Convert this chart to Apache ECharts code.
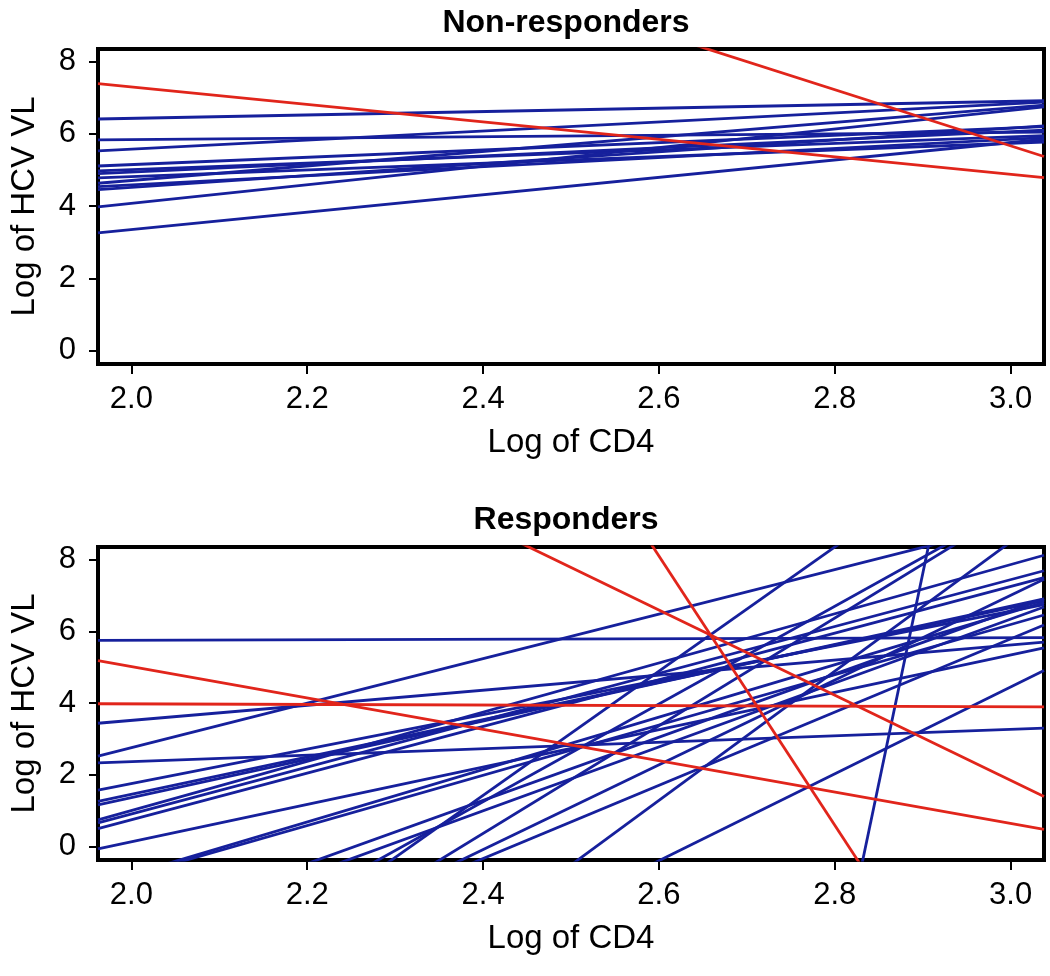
<!DOCTYPE html>
<html>
<head>
<meta charset="utf-8">
<script src="https://cdn.jsdelivr.net/npm/echarts@6/dist/echarts.min.js"></script>
<style>
html,body{margin:0;padding:0;background:#fff;}
#chart{width:1050px;height:976px;}
</style>
</head>
<body>
<div id="chart"></div>
<script>
// Axis ranges and tick labels
const X_MIN = 1.962, X_MAX = 3.038;
const Y_MIN = -0.37, Y_MAX = 8.35;
const xTicks = [2.0, 2.2, 2.4, 2.6, 2.8, 3.0];
const yTicks = [0, 2, 4, 6, 8];
const panelTitles = ['Non-responders', 'Responders'];
const xName = 'Log of CD4';
const yName = 'Log of HCV VL';

// Each subject line: [value at log CD4 = 2.0, value at log CD4 = 3.0]
const nonRespBlue = [
  [6.43, 6.90], [5.84, 6.04], [5.58, 6.83], [5.15, 6.16], [5.01, 5.92], [4.94, 6.06],
  [4.82, 5.74], [4.71, 6.72], [4.59, 5.85], [4.52, 6.16], [4.08, 6.65], [3.35, 5.76]
];
const nonRespRed = [
  [7.30, 4.88], [13.44, 5.67]
];
const respBlue = [
  [5.75, 5.82], [3.52, 5.62], [2.76, 8.96], [2.37, 3.27], [1.76, 6.56], [1.46, 6.66],
  [1.37, 6.70], [1.01, 7.86], [0.91, 7.44], [0.75, 7.25], [0.14, 5.34],
  [-0.77, 6.53], [-0.81, 6.19], [-2.23, 6.57], [-2.56, 6.34], [-4.19, 9.42], [-5.49, 11.81],
  [-5.63, 9.37], [-4.80, 7.00], [-4.41, 5.79], [-9.51, 8.49], [-7.65, 4.45], [-97.7, 19.3]
];
const respRed = [
  [3.98, 3.90], [5.02, 0.65], [13.71, 1.85], [30.6, -6.9]
];

const BLUE = '#16209c';
const RED = '#e1251b';
const FONT = '"Liberation Sans", Arial, Helvetica, sans-serif';

function toLine(v) {
  const m = v[1] - v[0];
  return [[X_MIN, v[0] + m * (X_MIN - 2)], [X_MAX, v[0] + m * (X_MAX - 2)]];
}

const grids = [
  {left: 96, right: 6, top: 49, height: 315},
  {left: 96, right: 6, top: 547, height: 313}
];

const option = {
  animation: false,
  backgroundColor: '#fff',
  title: [
    {text: panelTitles[0], left: 561, top: 2, textAlign: 'center',
     textStyle: {fontFamily: FONT, fontSize: 32, fontWeight: 'bold', color: '#000'}},
    {text: panelTitles[1], left: 561, top: 499, textAlign: 'center',
     textStyle: {fontFamily: FONT, fontSize: 32, fontWeight: 'bold', color: '#000'}}
  ],
  grid: grids.map(g => Object.assign({show: true, borderColor: '#000', borderWidth: 4, backgroundColor: 'transparent'}, g)),
  xAxis: [0, 1].map(i => ({
    type: 'value', gridIndex: i, min: X_MIN, max: X_MAX,
    name: xName, nameLocation: 'middle', nameGap: 62,
    nameTextStyle: {fontFamily: FONT, fontSize: 33, color: '#000'},
    axisLine: {show: false, onZero: false},
    splitLine: {show: false},
    axisTick: {show: true, length: 10, customValues: xTicks, lineStyle: {color: '#000', width: 2}},
    axisLabel: {customValues: xTicks, margin: 20, fontFamily: FONT, fontSize: 31, color: '#000',
                formatter: v => v.toFixed(1)}
  })),
  yAxis: [0, 1].map(i => ({
    type: 'value', gridIndex: i, min: Y_MIN, max: Y_MAX,
    name: yName, nameLocation: 'middle', nameGap: 57,
    nameTextStyle: {fontFamily: FONT, fontSize: 33, color: '#000'},
    axisLine: {show: false, onZero: false},
    splitLine: {show: false},
    axisTick: {show: true, length: 9, customValues: yTicks, lineStyle: {color: '#000', width: 2}},
    axisLabel: {customValues: yTicks, margin: 22, fontFamily: FONT, fontSize: 31, color: '#000'}
  })),
  series: []
};

function addLines(arr, idx, color, z) {
  arr.forEach(v => {
    option.series.push({
      type: 'line', xAxisIndex: idx, yAxisIndex: idx, data: toLine(v),
      showSymbol: false, symbol: 'none', clip: true, silent: true, z: z,
      lineStyle: {color: color, width: 2.8}
    });
  });
}
addLines(nonRespBlue, 0, BLUE, 2);
addLines(nonRespRed, 0, RED, 3);
addLines(respBlue, 1, BLUE, 2);
addLines(respRed, 1, RED, 3);

const chart = echarts.init(document.getElementById('chart'), null, {renderer: 'canvas'});
chart.setOption(option);
</script>
</body>
</html>
